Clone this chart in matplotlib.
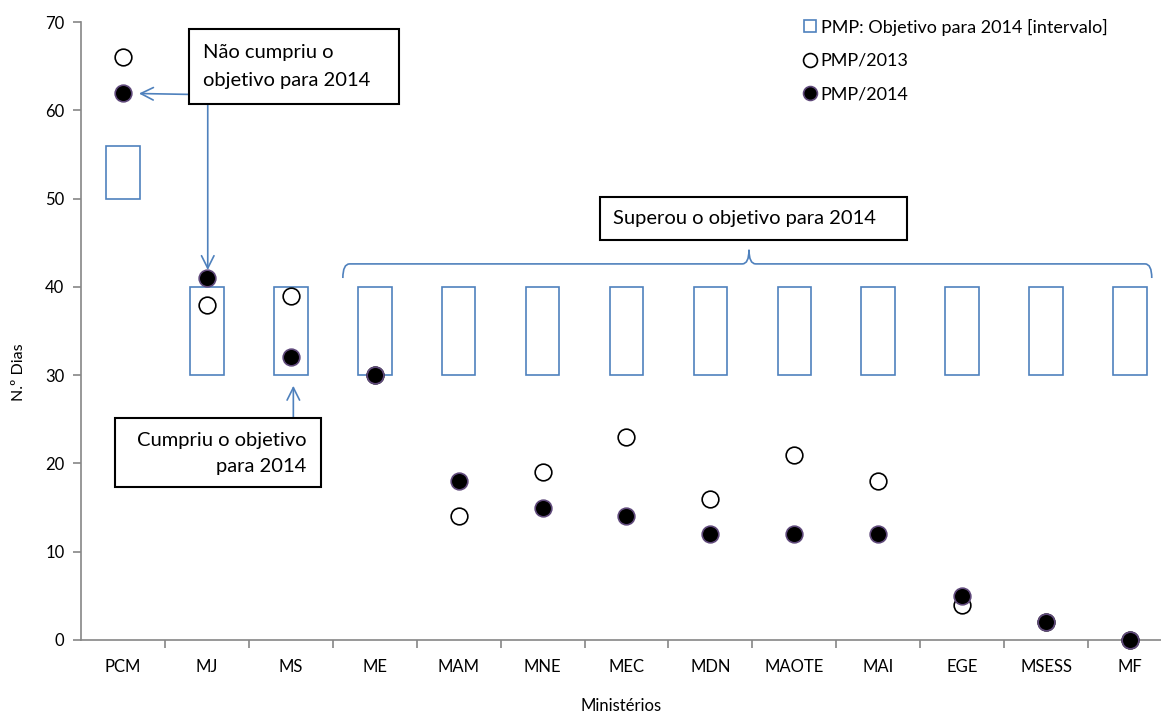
import matplotlib.pyplot as plt
import numpy as np
from matplotlib.patches import Rectangle, PathPatch
from matplotlib.path import Path
from matplotlib.lines import Line2D

plt.rcParams['font.family'] = ['Lato', 'DejaVu Sans']

# Dados
ministerios = ["PCM", "MJ", "MS", "ME", "MAM", "MNE", "MEC", "MDN", "MAOTE", "MAI", "EGE", "MSESS", "MF"]
objetivo_min = [50, 30, 30, 30, 30, 30, 30, 30, 30, 30, 30, 30, 30]
objetivo_max = [56, 40, 40, 40, 40, 40, 40, 40, 40, 40, 40, 40, 40]
pmp_2013 = [66, 38, 39, 30, 14, 19, 23, 16, 21, 18, 4, 2, 0]
pmp_2014 = [62, 41, 32, 30, 18, 15, 14, 12, 12, 12, 5, 2, 0]

azul = '#4F81BD'
cinza = '#868686'

fig = plt.figure(figsize=(11.61, 7.17), dpi=100)
ax = fig.add_axes([0.0698, 0.1074, 0.9302, 0.8619])

x = np.arange(len(ministerios))
alturas = [hi - lo for lo, hi in zip(objetivo_min, objetivo_max)]
ax.bar(x, alturas, bottom=objetivo_min, width=0.4, fill=False,
       edgecolor=azul, linewidth=1.2, zorder=2)
ax.plot(x, pmp_2013, 'o', ms=12, mfc='white', mec='black', mew=1.2,
        linestyle='none', zorder=3, clip_on=False)
ax.plot(x, pmp_2014, 'o', ms=12, mfc='black', mec='#5F497A', mew=1.2,
        linestyle='none', zorder=4, clip_on=False)

ax.set_xlim(-0.5, 12.37)
ax.set_ylim(0, 70)
ax.set_yticks(range(0, 71, 10))
ax.set_xticks(x)
ax.set_xticklabels(ministerios)
ax.set_xticks(np.arange(0.5, 12.5, 1), minor=True)
ax.tick_params(axis='x', which='major', length=0, pad=14, labelsize=12)
ax.tick_params(axis='x', which='minor', length=6, color=cinza, width=1.2)
ax.tick_params(axis='y', length=6, color=cinza, width=1.2, labelsize=12, pad=6)
for s in ['top', 'right']:
    ax.spines[s].set_visible(False)
for s in ['left', 'bottom']:
    ax.spines[s].set_color(cinza)
    ax.spines[s].set_linewidth(1.2)

ax.set_xlabel("Ministérios", fontsize=12, labelpad=16)
fig.text(0.016, 0.481, "N.º Dias", rotation=90, fontsize=11.5, ha='center', va='center')

# Legenda
handles = [
    Line2D([], [], marker='s', ms=9, mfc='white', mec=azul, mew=1.2, linestyle='none'),
    Line2D([], [], marker='o', ms=10, mfc='white', mec='black', mew=1.2, linestyle='none'),
    Line2D([], [], marker='o', ms=10, mfc='black', mec='#5F497A', mew=1.2, linestyle='none'),
]
labels = ["PMP: Objetivo para 2014 [intervalo]", "PMP/2013", "PMP/2014"]
fig.legend(handles, labels, loc='upper left', bbox_to_anchor=(0.685, 0.984),
           frameon=False, fontsize=13, handlelength=0.8, handletextpad=0.2,
           labelspacing=0.95, borderaxespad=0)

# Caixas de texto
def caixa(x0, x1, y0, y1):
    ax.add_patch(Rectangle((x0, y0), x1 - x0, y1 - y0, fill=True, facecolor='white',
                           edgecolor='black', linewidth=1.5, zorder=6, clip_on=False))

caixa(0.79, 3.29, 60.7, 69.2)
ax.text(0.95, 66.5, "Não cumpriu o", fontsize=14.5, va='center', ha='left', zorder=7)
ax.text(0.95, 63.4, "objetivo para 2014", fontsize=14.5, va='center', ha='left', zorder=7)

caixa(-0.10, 2.36, 17.33, 25.14)
ax.text(2.19, 22.65, "Cumpriu o objetivo", fontsize=14.5, va='center', ha='right', zorder=7)
ax.text(2.19, 19.6, "para 2014", fontsize=14.5, va='center', ha='right', zorder=7)

caixa(5.69, 9.34, 45.3, 50.2)
ax.text(5.84, 47.8, "Superou o objetivo para 2014", fontsize=14.5, va='center', ha='left', zorder=7)

# Setas
seta = dict(arrowstyle='->,head_length=0.9,head_width=0.45', color=azul, lw=1.2,
            shrinkA=0, shrinkB=0)
ax.annotate("", xy=(0.19, 61.9), xytext=(0.79, 61.8), arrowprops=seta, zorder=5)
ax.annotate("", xy=(1.01, 41.9), xytext=(1.01, 60.7), arrowprops=seta, zorder=5)
ax.annotate("", xy=(2.03, 28.8), xytext=(2.03, 25.14), arrowprops=seta, zorder=5)

# Chaveta
xl, xr, xc = 2.62, 12.26, 7.46
yb, ym, yt = 41.0, 42.6, 44.2
dx = 0.08
verts = [(xl, yb), (xl, ym), (xl + dx, ym),
         (xc - dx, ym), (xc, ym), (xc, yt),
         (xc, ym), (xc + dx, ym),
         (xr - dx, ym), (xr, ym), (xr, yb)]
codes = [Path.MOVETO, Path.CURVE3, Path.CURVE3,
         Path.LINETO, Path.CURVE3, Path.CURVE3,
         Path.CURVE3, Path.CURVE3,
         Path.LINETO, Path.CURVE3, Path.CURVE3]
ax.add_patch(PathPatch(Path(verts, codes), fill=False, edgecolor=azul, lw=1.2,
                       zorder=5, clip_on=False))

fig.savefig("out.png", dpi=100)
